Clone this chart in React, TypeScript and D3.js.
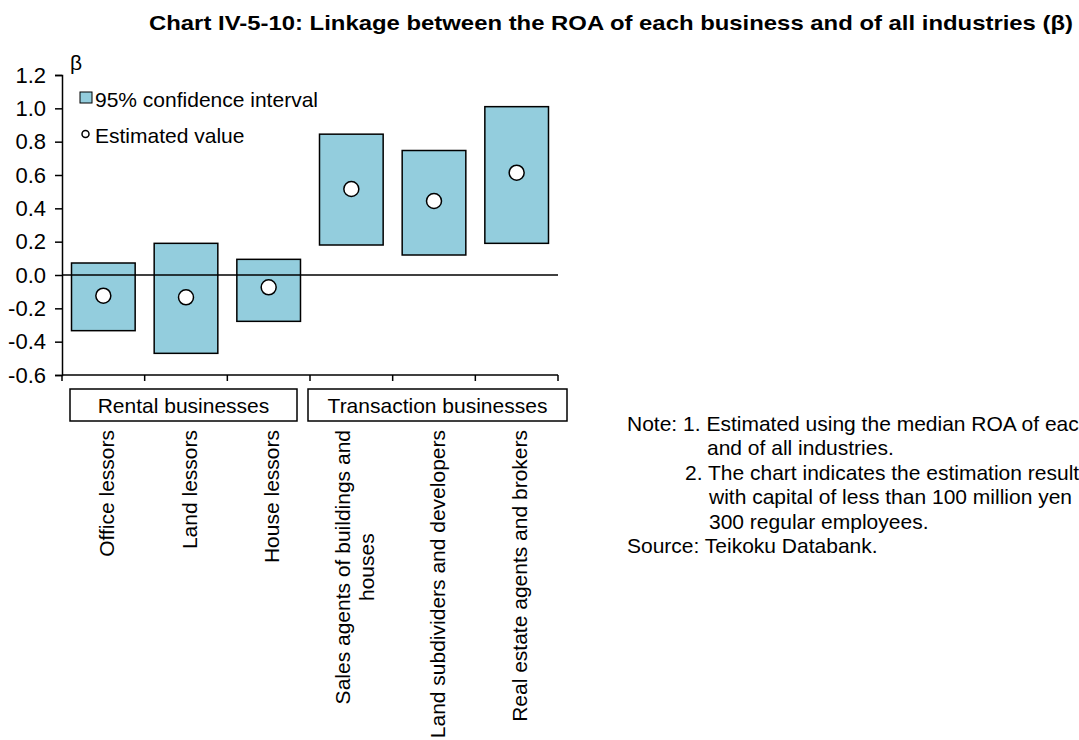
import React, { useEffect, useRef } from 'react';
import * as d3 from 'd3';

// Estimation results (β) for each real-estate business
const categories = [
  'Office lessors',
  'Land lessors',
  'House lessors',
  'Sales agents of buildings and houses',
  'Land subdividers and developers',
  'Real estate agents and brokers',
];
const categoryLines = [
  ['Office lessors'],
  ['Land lessors'],
  ['House lessors'],
  ['Sales agents of buildings and', 'houses'],
  ['Land subdividers and developers'],
  ['Real estate agents and brokers'],
];
const upperBound = [0.072, 0.19, 0.094, 0.845, 0.747, 1.01];
const lowerBound = [-0.334, -0.47, -0.278, 0.18, 0.12, 0.19];
const estimated = [-0.124, -0.134, -0.074, 0.516, 0.444, 0.614];

const groupNames = ['Rental businesses', 'Transaction businesses'];
const groupStart = [0, 3];
const groupEnd = [2, 5];

const yTicks = [-0.6, -0.4, -0.2, 0.0, 0.2, 0.4, 0.6, 0.8, 1.0, 1.2];

const noteLines = [
  'Note: 1. Estimated using the median ROA of each',
  'and of all industries.',
  '2. The chart indicates the estimation results',
  'with capital of less than 100 million yen',
  '300 regular employees.',
  'Source: Teikoku Databank.',
];
const noteIndent = [0, 80, 58, 82, 82, 0];

const FONT = '"Liberation Sans", Arial, sans-serif';
const FILL = '#93cddd';

const App = () => {
  const ref = useRef<SVGSVGElement | null>(null);

  useEffect(() => {
    if (!ref.current) return;
    const svg = d3.select(ref.current);
    svg.selectAll('*').remove();

    const left = 62, right = 558, top = 75, bottom = 375;
    const fmt = d3.formatLocale({ decimal: '.', thousands: ',', grouping: [3], currency: ['', ''], minus: '-' }).format('.1f');

    const x = d3.scaleBand<string>()
      .domain(categories)
      .range([left, right])
      .paddingInner(0.23)
      .paddingOuter(0.115);

    const y = d3.scaleLinear()
      .domain([-0.6, 1.2])
      .range([bottom, top]);

    // Title
    svg.append('text')
      .attr('x', 1073).attr('y', 22)
      .attr('text-anchor', 'end')
      .attr('dominant-baseline', 'central')
      .attr('textLength', 924)
      .attr('lengthAdjust', 'spacingAndGlyphs')
      .style('font-family', FONT).style('font-weight', 'bold').style('font-size', '21px')
      .text('Chart IV-5-10: Linkage between the ROA of each business and of all industries (β)');

    // Y axis
    const yAxis = d3.axisLeft(y).tickValues(yTicks).tickFormat(d => fmt(d as number)).tickSizeOuter(0).tickSize(7).tickPadding(9);
    const gy = svg.append('g').attr('transform', `translate(${left},0)`).call(yAxis);
    gy.selectAll('text').attr('fill', '#000').style('font-size', '22px').style('font-family', FONT);
    gy.selectAll('line').attr('stroke', '#000').attr('stroke-width', 1.5);
    gy.select('.domain').attr('stroke', '#000').attr('stroke-width', 1.5);

    svg.append('text')
      .attr('x', 70).attr('y', 62)
      .attr('dominant-baseline', 'central')
      .style('font-family', FONT).style('font-size', '21px')
      .text('β');

    // X axis with ticks on band boundaries
    const gap = x.step() - x.bandwidth();
    const bounds = categories.map(c => (x(c) as number) - gap / 2);
    bounds.push(right);
    svg.append('line')
      .attr('x1', left).attr('x2', right).attr('y1', bottom).attr('y2', bottom)
      .attr('stroke', '#000').attr('stroke-width', 1.5);
    svg.selectAll('.xtick').data(bounds).enter().append('line')
      .attr('x1', d => d).attr('x2', d => d).attr('y1', bottom).attr('y2', bottom + 6)
      .attr('stroke', '#000').attr('stroke-width', 1.5);

    // Confidence interval boxes
    svg.selectAll('.ci').data(categories).enter().append('rect')
      .attr('x', d => x(d) as number)
      .attr('width', x.bandwidth())
      .attr('y', (_, i) => y(upperBound[i]))
      .attr('height', (_, i) => y(lowerBound[i]) - y(upperBound[i]))
      .attr('fill', FILL).attr('stroke', '#000').attr('stroke-width', 1.5);

    // Zero line
    svg.append('line')
      .attr('x1', left).attr('x2', right).attr('y1', y(0)).attr('y2', y(0))
      .attr('stroke', '#000').attr('stroke-width', 1.5);

    // Estimated values
    svg.selectAll('.pt').data(categories).enter().append('circle')
      .attr('cx', d => (x(d) as number) + x.bandwidth() / 2)
      .attr('cy', (_, i) => y(estimated[i]))
      .attr('r', 7.5)
      .attr('fill', '#fff').attr('stroke', '#000').attr('stroke-width', 1.5);

    // Legend
    svg.append('rect').attr('x', 80).attr('y', 92).attr('width', 12).attr('height', 11)
      .attr('fill', FILL).attr('stroke', '#000').attr('stroke-width', 1);
    svg.append('text').attr('x', 95).attr('y', 99).attr('dominant-baseline', 'central')
      .style('font-family', FONT).style('font-size', '21px').text('95% confidence interval');
    svg.append('circle').attr('cx', 85.5).attr('cy', 134).attr('r', 3.5)
      .attr('fill', '#fff').attr('stroke', '#000').attr('stroke-width', 1.5);
    svg.append('text').attr('x', 95).attr('y', 135).attr('dominant-baseline', 'central')
      .style('font-family', FONT).style('font-size', '21px').text('Estimated value');

    // Group boxes
    const boxShift = [[8, -13], [-2, 9]];
    groupNames.forEach((name, g) => {
      const x0 = bounds[groupStart[g]] + boxShift[g][0];
      const x1 = bounds[groupEnd[g] + 1] + boxShift[g][1];
      svg.append('rect').attr('x', x0).attr('y', 389).attr('width', x1 - x0).attr('height', 32)
        .attr('fill', '#fff').attr('stroke', '#000').attr('stroke-width', 1.5);
      svg.append('text').attr('x', (x0 + x1) / 2).attr('y', 405)
        .attr('text-anchor', 'middle').attr('dominant-baseline', 'central')
        .style('font-family', FONT).style('font-size', '21px').text(name);
    });

    // Category labels (rotated)
    const lh = 24.5;
    categories.forEach((c, i) => {
      const cx = (x(c) as number) + x.bandwidth() / 2 + 3;
      const lines = categoryLines[i];
      const g = svg.append('g').attr('transform', `translate(${cx},430) rotate(-90)`);
      const texts = lines.map((ln, k) => g.append('text')
        .attr('y', (k - (lines.length - 1) / 2) * lh)
        .attr('dominant-baseline', 'central')
        .style('font-family', FONT).style('font-size', '21px')
        .text(ln));
      const longest = d3.max(texts, t => (t.node() as SVGTextElement).getComputedTextLength()) as number;
      texts.forEach(t => t.attr('x', -longest / 2).attr('text-anchor', 'middle'));
    });

    // Notes
    svg.selectAll('.note').data(noteLines).enter().append('text')
      .attr('x', (_, i) => 627 + noteIndent[i])
      .attr('y', (_, i) => 423 + i * 24.5)
      .attr('dominant-baseline', 'central')
      .style('font-family', FONT).style('font-size', '21px')
      .text(d => d);
  }, []);

  return (
    <svg ref={ref} width={1079} height={740}
      style={{ position: 'absolute', left: 0, top: 0, background: '#fff' }} />
  );
};

export default App;
